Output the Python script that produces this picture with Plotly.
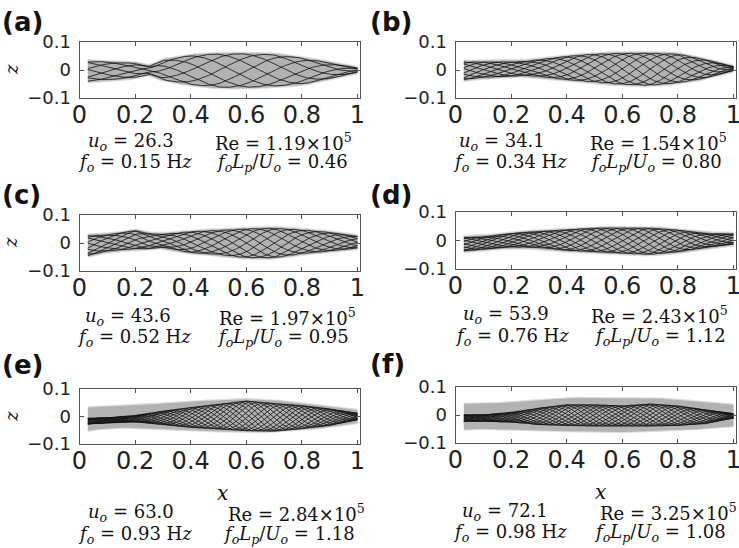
import numpy as np
import plotly.graph_objects as go

# ---------------- data ----------------
PANELS = ["a", "b", "c", "d", "e", "f"]
X_READ = [0.03, 0.1, 0.2, 0.25, 0.3, 0.4, 0.5, 0.6, 0.7, 0.8, 0.9, 1.0]

# upper / lower envelope of the black filament snapshots
LINE_UP = {
    "a": [0.031, 0.029, 0.024, 0.013, 0.035, 0.052, 0.058, 0.058, 0.055, 0.043, 0.025, 0.007],
    "b": [0.029, 0.029, 0.029, 0.031, 0.037, 0.049, 0.057, 0.060, 0.060, 0.057, 0.037, 0.012],
    "c": [0.026, 0.029, 0.045, 0.033, 0.031, 0.041, 0.045, 0.051, 0.053, 0.047, 0.038, 0.024],
    "d": [0.011, 0.013, 0.025, 0.029, 0.032, 0.038, 0.044, 0.044, 0.044, 0.037, 0.025, 0.023],
    "e": [-0.006, -0.004, 0.004, 0.012, 0.020, 0.033, 0.045, 0.057, 0.048, 0.040, 0.028, 0.012],
    "f": [0.001, 0.001, 0.010, 0.017, 0.025, 0.037, 0.037, 0.033, 0.040, 0.033, 0.019, 0.005],
}
LINE_DN = {
    "a": [-0.040, -0.035, -0.027, -0.014, -0.035, -0.052, -0.062, -0.062, -0.058, -0.050, -0.031, -0.008],
    "b": [-0.035, -0.026, -0.023, -0.019, -0.023, -0.035, -0.043, -0.052, -0.055, -0.046, -0.029, -0.002],
    "c": [-0.045, -0.029, -0.021, -0.021, -0.015, -0.035, -0.041, -0.053, -0.053, -0.038, -0.029, -0.018],
    "d": [-0.037, -0.031, -0.023, -0.024, -0.025, -0.035, -0.040, -0.045, -0.049, -0.040, -0.025, -0.013],
    "e": [-0.028, -0.024, -0.020, -0.025, -0.030, -0.040, -0.046, -0.052, -0.054, -0.045, -0.033, -0.012],
    "f": [-0.023, -0.023, -0.026, -0.030, -0.035, -0.038, -0.040, -0.040, -0.040, -0.038, -0.031, -0.011],
}
# grey band (full extent); panels a-d hug the snapshot envelope
GRAY_UP = {
    "e": [0.033, 0.036, 0.040, 0.044, 0.048, 0.054, 0.060, 0.063, 0.059, 0.048, 0.036, 0.024],
    "f": [0.040, 0.040, 0.045, 0.048, 0.052, 0.061, 0.061, 0.061, 0.061, 0.055, 0.045, 0.037],
}
GRAY_DN = {
    "e": [-0.052, -0.042, -0.040, -0.043, -0.046, -0.052, -0.054, -0.057, -0.057, -0.048, -0.040, -0.024],
    "f": [-0.052, -0.050, -0.050, -0.052, -0.055, -0.058, -0.058, -0.061, -0.058, -0.052, -0.050, -0.040],
}
WAVELENGTH = {"a": 0.70, "b": 0.50, "c": 0.50, "d": 0.45, "e": 0.36, "f": 0.36}
N_SNAP = {"a": 7, "b": 10, "c": 10, "d": 12, "e": 16, "f": 16}

U_O = ["26.3", "34.1", "43.6", "53.9", "63.0", "72.1"]
RE = ["1.19", "1.54", "1.97", "2.43", "2.84", "3.25"]
F_O = ["0.15", "0.34", "0.52", "0.76", "0.93", "0.98"]
F_LU = ["0.46", "0.80", "0.95", "1.12", "1.18", "1.08"]

X_TICKS = [0, 0.2, 0.4, 0.6, 0.8, 1]
X_TICKTEXT = ["0", "0.2", "0.4", "0.6", "0.8", "1"]
Z_TICKS = [-0.1, 0, 0.1]
Z_TICKTEXT = ["\u22120.1", "0", "0.1"]

# ---------------- layout geometry (pixels) ----------------
W, H = 739, 548
COL_X0 = [79.5, 455.5]          # pixel of x = 0
PX_PER_UNIT = 278.0
XMAX = 1.008
ROW_Y = {"a": (42, 98), "b": (42, 98), "c": (215, 271), "d": (212, 269),
         "e": (389, 444), "f": (387, 443)}

GRAY_PAD = 0.004
SANS = "DejaVu Sans"
SERIF = "DejaVu Serif"

fig = go.Figure()
layout = dict(width=W, height=H, autosize=False, margin=dict(l=0, r=0, t=0, b=0, pad=0),
              paper_bgcolor="white", plot_bgcolor="white", showlegend=False, template="none")

xf = np.linspace(X_READ[0], 1.0, 260)
annotations = []
for i, p in enumerate(PANELS):
    col = i % 2
    ax = "" if i == 0 else str(i + 1)
    up = np.array(LINE_UP[p]); dn = np.array(LINE_DN[p])
    if p in GRAY_UP:
        gu = np.array(GRAY_UP[p]); gd = np.array(GRAY_DN[p])
    else:
        gu = up + GRAY_PAD; gd = dn - GRAY_PAD
    gu_f = np.interp(xf, X_READ, gu); gd_f = np.interp(xf, X_READ, gd)
    # soft halo + grey band
    fig.add_trace(go.Scatter(x=np.concatenate([xf, xf[::-1]]),
                             y=np.concatenate([gu_f + 0.004, (gd_f - 0.004)[::-1]]),
                             fill="toself", fillcolor="rgb(222,222,222)", line=dict(width=0),
                             mode="lines", hoverinfo="skip", xaxis="x" + ax, yaxis="y" + ax))
    fig.add_trace(go.Scatter(x=np.concatenate([xf, xf[::-1]]),
                             y=np.concatenate([gu_f, gd_f[::-1]]),
                             fill="toself", fillcolor="rgb(178,178,178)", line=dict(width=0),
                             mode="lines", hoverinfo="skip", xaxis="x" + ax, yaxis="y" + ax))
    # snapshots
    mid = np.interp(xf, X_READ, (up + dn) / 2)
    amp = np.interp(xf, X_READ, (up - dn) / 2)
    xs, zs = [], []
    for j in range(N_SNAP[p]):
        ph = 2 * np.pi * j / N_SNAP[p]
        z = mid + amp * np.sin(2 * np.pi * xf / WAVELENGTH[p] - ph)
        xs += list(xf) + [None]
        zs += list(z) + [None]
    fig.add_trace(go.Scatter(x=xs, y=zs, mode="lines", line=dict(color="#111111", width=0.8),
                             hoverinfo="skip", xaxis="x" + ax, yaxis="y" + ax))

    x0 = COL_X0[col]
    x1 = x0 + PX_PER_UNIT * XMAX
    ytop, ybot = ROW_Y[p]
    layout["xaxis" + ax] = dict(domain=[x0 / W, x1 / W], range=[0, XMAX], anchor="y" + ax,
                                automargin=False, ticklabeloverflow="allow",
                                showline=True, linecolor="#555", linewidth=1, mirror="ticks",
                                ticks="inside", ticklen=4, tickcolor="#555",
                                tickvals=X_TICKS, ticktext=X_TICKTEXT, showgrid=False, zeroline=False,
                                tickfont=dict(family=SANS, size=24, color="#222"), ticklabelstandoff=-5)
    layout["yaxis" + ax] = dict(domain=[1 - ybot / H, 1 - ytop / H], range=[-0.1, 0.1], anchor="x" + ax,
                                automargin=False,
                                showline=True, linecolor="#555", linewidth=1, mirror="ticks",
                                ticks="inside", ticklen=4, tickcolor="#555",
                                tickvals=Z_TICKS, ticktext=Z_TICKTEXT, showgrid=False, zeroline=False,
                                tickfont=dict(family=SANS, size=18, color="#222"), ticklabelstandoff=4)

# ---------------- text ----------------
def ann(x, y, text, size=18, family=SERIF, angle=0, xanchor="center"):
    annotations.append(dict(x=x / W, y=1 - y / H, xref="paper", yref="paper", text=text,
                            showarrow=False, xanchor=xanchor, yanchor="middle", textangle=angle,
                            font=dict(family=family, size=size, color="#111")))

LETTER_POS = [(0, 22), (368, 22), (0, 195), (368, 195), (0, 365), (368, 364)]
for i, p in enumerate(PANELS):
    lx, ly = LETTER_POS[i]
    ann(lx, ly, "<b>(" + p + ")</b>", size=26, family=SANS, xanchor="left")

LINE1_Y = [142, 142, 317, 315, 513, 512]
LINE2_Y = [163, 163, 338, 337, 535, 533]
UO_X = [131, 502, 128, 506, 131, 505]
RE_X = [283, 658, 287, 659, 296, 668]
FO_X = [135, 510, 134, 512, 135, 510]
FLU_X = [282, 656, 283, 660, 289, 660]
O = "<sub><i>o</i></sub>"
for i in range(6):
    ann(UO_X[i], LINE1_Y[i], "<i>u</i>" + O + " = " + U_O[i])
    ann(RE_X[i], LINE1_Y[i], "Re = " + RE[i] + "\u00d710<sup>5</sup>")
    ann(FO_X[i], LINE2_Y[i], "<i>f</i>" + O + " = " + F_O[i] + " H<i>z</i>")
    ann(FLU_X[i], LINE2_Y[i], "<i>f</i>" + O + "<i>L</i><sub><i>p</i></sub>/<i>U</i>" + O + " = " + F_LU[i])

for y in (70, 243, 417):
    ann(11, y, "<i>z</i>", size=18, angle=-90)
ann(222, 493, "<i>x</i>", size=20)
ann(600, 492, "<i>x</i>", size=20)

layout["annotations"] = annotations
fig.update_layout(**layout)
fig.write_html("out.html", config={"displayModeBar": False},
               post_script="document.body.style.margin='0';document.body.style.overflow='hidden';")
